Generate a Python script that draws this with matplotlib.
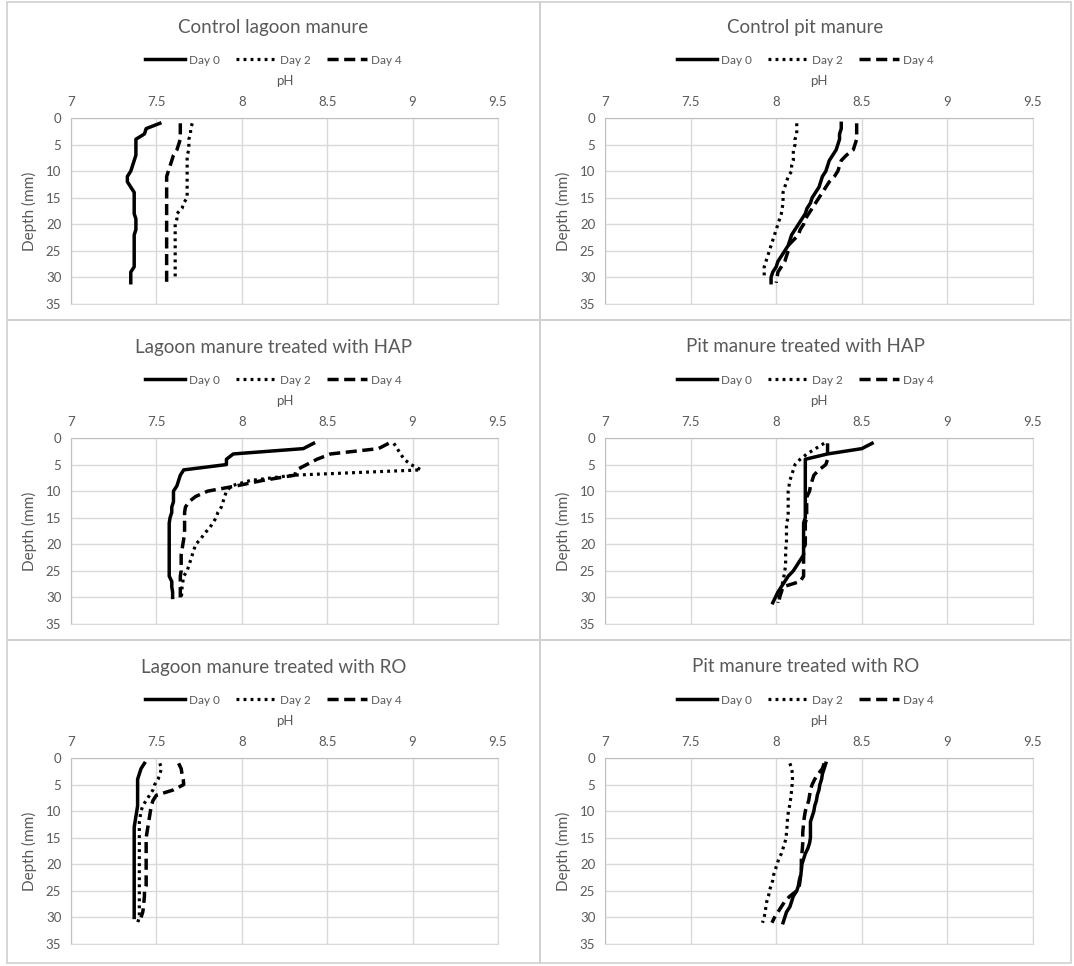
# pH depth profiles, six Excel-style panels
import matplotlib.pyplot as plt
from matplotlib.patches import Rectangle
from matplotlib.ticker import FuncFormatter

plt.rcParams['font.family'] = ['Lato', 'DejaVu Sans']

# depth (mm)
depth_31 = [1, 2, 3, 4, 5, 6, 7, 8, 9, 10, 11, 12, 13, 14, 15, 16, 17, 18, 19, 20,
            21, 22, 23, 24, 25, 26, 27, 28, 29, 30, 31]
depth_30 = depth_31[:30]

# Control lagoon manure
lag_ctrl_d0 = [7.52, 7.44, 7.43, 7.38, 7.38, 7.38, 7.38, 7.37, 7.36, 7.35, 7.33, 7.33, 7.35, 7.37, 7.37,
               7.37, 7.37, 7.37, 7.38, 7.38, 7.38, 7.37, 7.37, 7.37, 7.37, 7.37, 7.37, 7.37, 7.35, 7.35, 7.35]
lag_ctrl_d2 = [7.71, 7.70, 7.70, 7.69, 7.69, 7.69, 7.68, 7.68, 7.68, 7.68, 7.68, 7.68, 7.68, 7.68, 7.68,
               7.66, 7.65, 7.62, 7.62, 7.61, 7.61, 7.61, 7.61, 7.61, 7.61, 7.61, 7.61, 7.61, 7.61, 7.61]
lag_ctrl_d4 = [7.64, 7.64, 7.64, 7.64, 7.63, 7.62, 7.60, 7.59, 7.58, 7.57, 7.56, 7.56, 7.56, 7.56, 7.56,
               7.56, 7.56, 7.56, 7.56, 7.56, 7.56, 7.56, 7.56, 7.56, 7.56, 7.56, 7.56, 7.56, 7.56, 7.56, 7.56]

# Control pit manure
pit_ctrl_d0 = [8.38, 8.38, 8.37, 8.37, 8.36, 8.35, 8.33, 8.31, 8.30, 8.29, 8.27, 8.26, 8.25, 8.23, 8.21,
               8.20, 8.18, 8.17, 8.15, 8.13, 8.11, 8.09, 8.08, 8.07, 8.05, 8.03, 8.01, 8.00, 7.98, 7.97, 7.97]
pit_ctrl_d2 = [8.12, 8.12, 8.12, 8.11, 8.11, 8.10, 8.10, 8.10, 8.09, 8.09, 8.07, 8.06, 8.05, 8.04, 8.04,
               8.04, 8.035, 8.03, 8.02, 8.01, 8.00, 7.99, 7.98, 7.97, 7.96, 7.95, 7.94, 7.93, 7.93, 7.93]
pit_ctrl_d4 = [8.47, 8.47, 8.47, 8.47, 8.46, 8.45, 8.41, 8.38, 8.37, 8.36, 8.34, 8.31, 8.29, 8.27, 8.25,
               8.23, 8.21, 8.19, 8.17, 8.16, 8.14, 8.13, 8.10, 8.07, 8.07, 8.06, 8.05, 8.03, 8.01, 8.005, 8.00]

# Lagoon manure treated with HAP
lag_hap_d0 = [8.42, 8.36, 7.95, 7.91, 7.91, 7.66, 7.64, 7.63, 7.62, 7.60, 7.60, 7.60, 7.59, 7.59, 7.58,
              7.575, 7.575, 7.575, 7.575, 7.575, 7.575, 7.575, 7.575, 7.575, 7.575, 7.575, 7.59, 7.59, 7.595, 7.595]
lag_hap_d2 = [8.89, 8.91, 8.93, 8.95, 8.99, 9.05, 8.30, 8.05, 7.94, 7.91, 7.90, 7.89, 7.88, 7.86, 7.85,
              7.83, 7.81, 7.78, 7.76, 7.73, 7.72, 7.71, 7.70, 7.69, 7.68, 7.66, 7.655, 7.65, 7.65, 7.645]
lag_hap_d4 = [8.86, 8.80, 8.52, 8.44, 8.38, 8.32, 8.31, 8.12, 7.97, 7.80, 7.73, 7.69, 7.67, 7.665, 7.665,
              7.665, 7.665, 7.665, 7.66, 7.655, 7.65, 7.645, 7.645, 7.645, 7.645, 7.64, 7.64, 7.64, 7.64, 7.64]

# Pit manure treated with HAP
pit_hap_d0 = [8.56, 8.50, 8.30, 8.17, 8.17, 8.17, 8.17, 8.17, 8.17, 8.17, 8.17, 8.17, 8.17, 8.17, 8.17,
              8.16, 8.16, 8.16, 8.16, 8.16, 8.16, 8.16, 8.14, 8.12, 8.10, 8.07, 8.05, 8.03, 8.01, 7.995, 7.98]
pit_hap_d2 = [8.28, 8.23, 8.18, 8.14, 8.11, 8.10, 8.09, 8.08, 8.075, 8.07, 8.07, 8.07, 8.07, 8.07, 8.07,
              8.06, 8.06, 8.06, 8.06, 8.06, 8.055, 8.055, 8.055, 8.055, 8.05, 8.045, 8.04, 8.03, 8.02, 8.015, 8.01]
pit_hap_d4 = [8.30, 8.30, 8.30, 8.30, 8.29, 8.25, 8.22, 8.21, 8.20, 8.195, 8.18, 8.178, 8.178, 8.178, 8.178,
              8.17, 8.17, 8.17, 8.17, 8.17, 8.16, 8.16, 8.16, 8.16, 8.16, 8.16, 8.14, 8.04, 8.03, 8.02, 8.015]

# Lagoon manure treated with RO
lag_ro_d0 = [7.43, 7.41, 7.40, 7.39, 7.39, 7.39, 7.39, 7.39, 7.39, 7.385, 7.38, 7.375, 7.37, 7.37, 7.37,
             7.37, 7.37, 7.37, 7.37, 7.37, 7.37, 7.37, 7.37, 7.37, 7.37, 7.37, 7.37, 7.37, 7.37, 7.37]
lag_ro_d2 = [7.52, 7.53, 7.52, 7.51, 7.49, 7.48, 7.46, 7.44, 7.42, 7.41, 7.405, 7.40, 7.40, 7.40, 7.40,
             7.40, 7.40, 7.40, 7.40, 7.40, 7.40, 7.40, 7.40, 7.40, 7.40, 7.40, 7.40, 7.40, 7.40, 7.40, 7.39]
lag_ro_d4 = [7.63, 7.645, 7.65, 7.657, 7.66, 7.60, 7.50, 7.48, 7.47, 7.465, 7.46, 7.455, 7.45, 7.445, 7.44,
             7.44, 7.44, 7.44, 7.44, 7.44, 7.44, 7.44, 7.44, 7.44, 7.43, 7.43, 7.427, 7.425, 7.42, 7.41]

# Pit manure treated with RO
pit_ro_d0 = [8.29, 8.28, 8.27, 8.265, 8.255, 8.25, 8.24, 8.235, 8.225, 8.22, 8.21, 8.20, 8.20, 8.20, 8.20,
             8.195, 8.185, 8.17, 8.16, 8.15, 8.147, 8.144, 8.135, 8.13, 8.12, 8.10, 8.09, 8.08, 8.06, 8.05, 8.04]
pit_ro_d2 = [8.08, 8.09, 8.095, 8.095, 8.093, 8.09, 8.087, 8.083, 8.078, 8.072, 8.067, 8.065, 8.063, 8.06, 8.058,
             8.05, 8.04, 8.03, 8.015, 8.005, 7.995, 7.985, 7.98, 7.97, 7.96, 7.955, 7.945, 7.94, 7.935, 7.93, 7.92]
pit_ro_d4 = [8.28, 8.27, 8.245, 8.225, 8.21, 8.20, 8.195, 8.19, 8.18, 8.17, 8.165, 8.16, 8.158, 8.155, 8.155,
             8.155, 8.153, 8.15, 8.147, 8.147, 8.147, 8.143, 8.14, 8.135, 8.12, 8.08, 8.05, 8.03, 8.01, 7.99, 7.975]

titles = ['Control lagoon manure', 'Control pit manure',
          'Lagoon manure treated with HAP', 'Pit manure treated with HAP',
          'Lagoon manure treated with RO', 'Pit manure treated with RO']
series = [
    [lag_ctrl_d0, lag_ctrl_d2, lag_ctrl_d4],
    [pit_ctrl_d0, pit_ctrl_d2, pit_ctrl_d4],
    [lag_hap_d0, lag_hap_d2, lag_hap_d4],
    [pit_hap_d0, pit_hap_d2, pit_hap_d4],
    [lag_ro_d0, lag_ro_d2, lag_ro_d4],
    [pit_ro_d0, pit_ro_d2, pit_ro_d4],
]
day_labels = ['Day 0', 'Day 2', 'Day 4']
ph_ticks = [7, 7.5, 8, 8.5, 9, 9.5]
depth_ticks = [0, 5, 10, 15, 20, 25, 30, 35]

styles = [dict(ls='-', lw=2.5),
          dict(ls=(0, (0.9, 1.3)), lw=2.3),
          dict(ls=(0, (3.2, 1.6)), lw=2.5)]

W, H = 1074, 966
fig = plt.figure(figsize=(W / 100, H / 100), dpi=100)
txt = '#595959'
grid_c = '#d9d9d9'

# chart frames (pixels)
col_x = [(7, 540), (540, 1071)]
row_y = [(2, 320), (320, 640), (640, 963)]
for (x0, x1) in col_x:
    for (y0, y1) in row_y:
        fig.patches.append(Rectangle((x0 / W, 1 - y1 / H), (x1 - x0) / W, (y1 - y0) / H,
                                     transform=fig.transFigure, fill=False,
                                     edgecolor='#d0d0d0', lw=1.2))

plot_x = [(71, 498), (605, 1033)]
for i, title in enumerate(titles):
    c, r = i % 2, i // 2
    rt = row_y[r][0] - 2 if r == 0 else row_y[r][0]
    l, rr = plot_x[c]
    top, bot = rt + 118, rt + 304
    ax = fig.add_axes([l / W, 1 - bot / H, (rr - l) / W, (bot - top) / H])
    for k, vals in enumerate(series[i]):
        d = depth_31 if len(vals) == 31 else depth_30
        ax.plot(vals, d, color='black', label=day_labels[k],
                dash_capstyle='butt', **styles[k])
    ax.set_xlim(7, 9.5)
    ax.set_ylim(35, 0)
    ax.set_xticks(ph_ticks)
    ax.set_yticks(depth_ticks)
    ax.xaxis.set_major_formatter(FuncFormatter(lambda v, p: '%g' % v))
    ax.xaxis.tick_top()
    ax.tick_params(length=0, labelsize=9.5, labelcolor=txt, pad=7)
    ax.grid(True, color=grid_c, lw=1)
    ax.set_axisbelow(True)
    for s in ax.spines.values():
        s.set_color(grid_c)
    ax.spines['top'].set_color('#bfbfbf')
    ax.spines['left'].set_color('#bfbfbf')
    ax.set_ylabel('Depth (mm)', fontsize=11, color=txt, labelpad=6)

    cx = (col_x[c][0] + col_x[c][1]) / 2
    fig.text(cx / W, 1 - (rt + 27) / H, title, ha='center', va='center',
             fontsize=13.5, color=txt)
    fig.text((l + rr) / 2 / W, 1 - (rt + 81) / H, 'pH', ha='center', va='center',
             fontsize=9.5, color=txt)
    h, lb = ax.get_legend_handles_labels()
    fig.legend(h, lb, loc='center', bbox_to_anchor=(cx / W, 1 - (rt + 60) / H),
               ncol=3, frameon=False, fontsize=8.5, handlelength=3.4,
               columnspacing=1.4, handletextpad=0.3, labelcolor=txt,
               borderaxespad=0)

fig.savefig('out.png', dpi=100)
